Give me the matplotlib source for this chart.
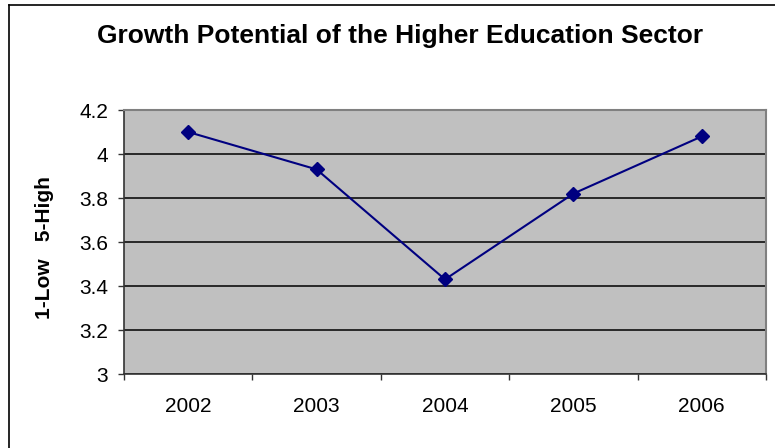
import matplotlib
matplotlib.use("Agg")
import matplotlib.pyplot as plt
from matplotlib.lines import Line2D

plt.rcParams['font.family'] = ['Liberation Sans', 'DejaVu Sans']

years = ["2002", "2003", "2004", "2005", "2006"]
scores = [4.10, 3.93, 3.43, 3.82, 4.08]
y_ticks = [3, 3.2, 3.4, 3.6, 3.8, 4, 4.2]
y_tick_labels = ["3", "3.2", "3.4", "3.6", "3.8", "4", "4.2"]

W, H = 775, 448
fig = plt.figure(figsize=(W / 100, H / 100), dpi=100)
fig.patch.set_facecolor("white")

# chart-area frame (left and top edges)
fig.add_artist(Line2D([9 / W, 9 / W], [0, 1 - 5 / H], transform=fig.transFigure,
                      color="black", lw=1.2))
fig.add_artist(Line2D([9 / W, 1], [1 - 5 / H, 1 - 5 / H], transform=fig.transFigure,
                      color="black", lw=1.2))

left, right, top, bottom = 124, 766, 110, 374
ax = fig.add_axes([left / W, 1 - bottom / H, (right - left) / W, (bottom - top) / H])
ax.set_facecolor("#c0c0c0")

x = list(range(len(years)))
ax.plot(x, scores, color="#000080", lw=1.5, marker="D", markersize=7.5,
        markerfacecolor="#000080", markeredgecolor="#000080", zorder=3)

ax.set_xlim(-0.5, len(years) - 0.5)
ax.set_ylim(3, 4.2)

ax.set_yticks(y_ticks)
ax.set_yticklabels(y_tick_labels, fontsize=15)
ax.yaxis.grid(True, color="black", lw=1.1)
ax.set_axisbelow(True)

ax.set_xticks(x)
ax.set_xticklabels(years, fontsize=15)
ax.set_xticks([i - 0.5 for i in range(len(years) + 1)], minor=True)
ax.tick_params(axis="x", which="major", length=0, pad=16.5)
ax.tick_params(axis="x", which="minor", length=4.5, width=1, color="#333333")
ax.tick_params(axis="y", length=4.5, width=1, color="#333333", pad=7)

for side in ("top", "right"):
    ax.spines[side].set_color("#808080")
    ax.spines[side].set_linewidth(1.5)
ax.spines["left"].set_color("#333333")
ax.spines["bottom"].set_color("#333333")
ax.spines["left"].set_linewidth(1.2)
ax.spines["bottom"].set_linewidth(1.2)

fig.text(45 / W, 1 - 248 / H, "1-Low   5-High", rotation=90, fontsize=15,
         fontweight="bold", ha="center", va="center")
fig.text(400 / W, 1 - 36 / H, "Growth Potential of the Higher Education Sector",
         fontsize=19, fontweight="bold", ha="center", va="center")

fig.savefig("out.png", dpi=100)
